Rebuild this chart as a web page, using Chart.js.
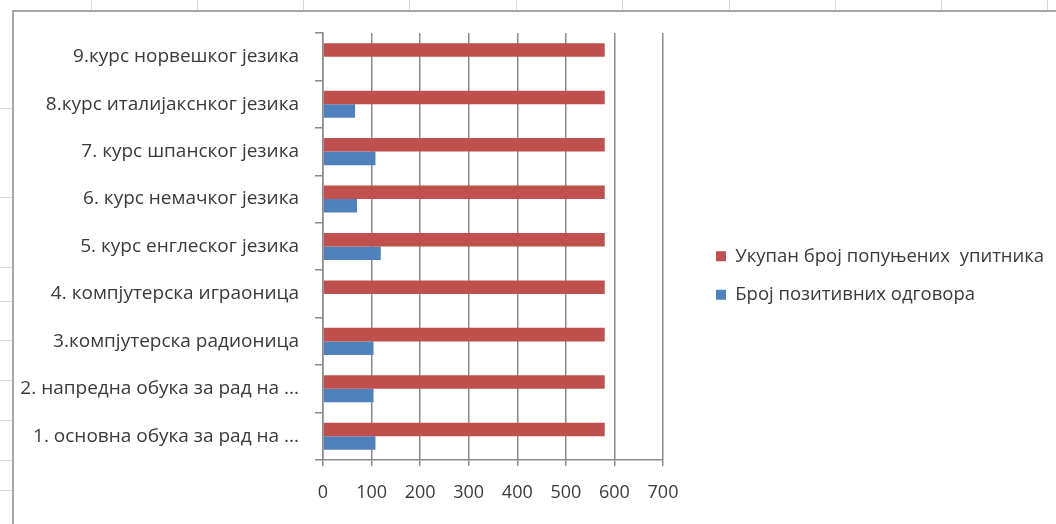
<!DOCTYPE html>
<html>
<head>
<meta charset="utf-8">
<script src="https://cdn.jsdelivr.net/npm/chart.js@4/dist/chart.umd.min.js"></script>
<style>
  html, body { margin: 0; padding: 0; background: #fff; overflow: hidden; }
  body { width: 1056px; height: 524px; position: relative; }
  .cellV { position: absolute; top: 0; width: 1px; height: 10px; background: #d6d6d6; }
  .cellH { position: absolute; left: 0; width: 12px; height: 1px; background: #d6d6d6; }
  #frame {
    position: absolute; left: 12px; top: 10px; width: 1060px; height: 540px;
    border-left: 2px solid #a8a8a8; border-top: 2px solid #a8a8a8; background: #fff;
  }
  #chartBox { position: absolute; left: 14px; top: 12px; width: 1050px; height: 506px; }
</style>
</head>
<body>
<div id="sheet"></div>
<div id="frame"></div>
<div id="chartBox"><canvas id="barChart"></canvas></div>
<script>
// top to bottom, as shown
const categories = [
  '9.курс норвешког језика',
  '8.курс италијакснког језика',
  '7. курс шпанског језика',
  '6. курс немачког језика',
  '5. курс енглеског језика',
  '4. компјутерска играоница',
  '3.компјутерска радионица',
  '2. напредна обука за рад на ...',
  '1. основна обука за рад на ...'
];
const totalAnswers = [580, 580, 580, 580, 580, 580, 580, 580, 580];
const positiveAnswers = [0, 66, 108, 70, 119, 0, 104, 104, 108];
const seriesNames = ['Укупан број попуњених  упитника', 'Број позитивних одговора'];
const xTicks = [0, 100, 200, 300, 400, 500, 600, 700];

// spreadsheet cell lines behind the chart
const sheet = document.getElementById('sheet');
[91, 197, 303, 409, 516, 622, 729, 835, 941, 1047].forEach(x => {
  sheet.insertAdjacentHTML('beforeend', `<div class="cellV" style="left:${x}px"></div>`);
});
[108, 197, 267, 301, 340, 380, 420, 460, 490].forEach(y => {
  sheet.insertAdjacentHTML('beforeend', `<div class="cellH" style="top:${y}px"></div>`);
});

const fontFamily = '"Open Sans", "Noto Sans", sans-serif';
const textColor = '#3a3a3a';
const gridColor = '#8a8a8a';

// legend on the right gets squeezed by default, give it a fixed width
const wideLegend = {
  id: 'wideLegend',
  beforeLayout(chart) {
    const legend = chart.legend;
    if (!legend || legend._wide) return;
    const origFit = legend.fit;
    legend.fit = function () {
      origFit.call(this);
      this.width = 368;
    };
    legend._wide = true;
  }
};

const context = document.getElementById('barChart').getContext('2d');
new Chart(context, {
  type: 'bar',
  data: {
    labels: categories,
    datasets: [
      {
        label: seriesNames[0],
        data: totalAnswers,
        backgroundColor: '#c0504d'
      },
      {
        label: seriesNames[1],
        data: positiveAnswers,
        backgroundColor: '#4f81bd'
      }
    ]
  },
  options: {
    indexAxis: 'y',
    responsive: true,
    maintainAspectRatio: false,
    animation: false,
    layout: { padding: { top: 21, bottom: 0, left: 0, right: 0 } },
    datasets: {
      bar: { barPercentage: 1, categoryPercentage: 0.57 }
    },
    scales: {
      x: {
        min: 0,
        max: 700,
        afterBuildTicks: scale => { scale.ticks = xTicks.map(v => ({ value: v })); },
        afterFit: scale => { scale.height = 58; },
        grid: { color: gridColor, lineWidth: 1.5, tickLength: 6 },
        border: { color: gridColor, width: 1.5 },
        ticks: { color: textColor, padding: 16, font: { family: fontFamily, size: 18 } }
      },
      y: {
        afterFit: scale => {
          scale.width = 309;
          scale.paddingTop = 0;
          scale.paddingBottom = 0;
        },
        grid: { drawOnChartArea: false, color: gridColor, lineWidth: 1.5, tickLength: 8, offset: true },
        border: { color: gridColor, width: 1.5 },
        ticks: { color: textColor, padding: 16, font: { family: fontFamily, size: 19 } }
      },
      // empty spacer between plot and legend
      gap: {
        type: 'linear',
        position: 'right',
        grid: { display: false },
        border: { display: false },
        ticks: { display: false },
        afterFit: scale => {
          scale.width = 33;
          scale.paddingTop = 0;
          scale.paddingBottom = 0;
        }
      }
    },
    plugins: {
      legend: {
        position: 'right',
        labels: {
          color: textColor,
          boxWidth: 10,
          boxHeight: 10,
          padding: 20,
          font: { family: fontFamily, size: 18.5 }
        }
      },
      tooltip: { enabled: false }
    }
  },
  plugins: [wideLegend]
});
</script>
</body>
</html>
